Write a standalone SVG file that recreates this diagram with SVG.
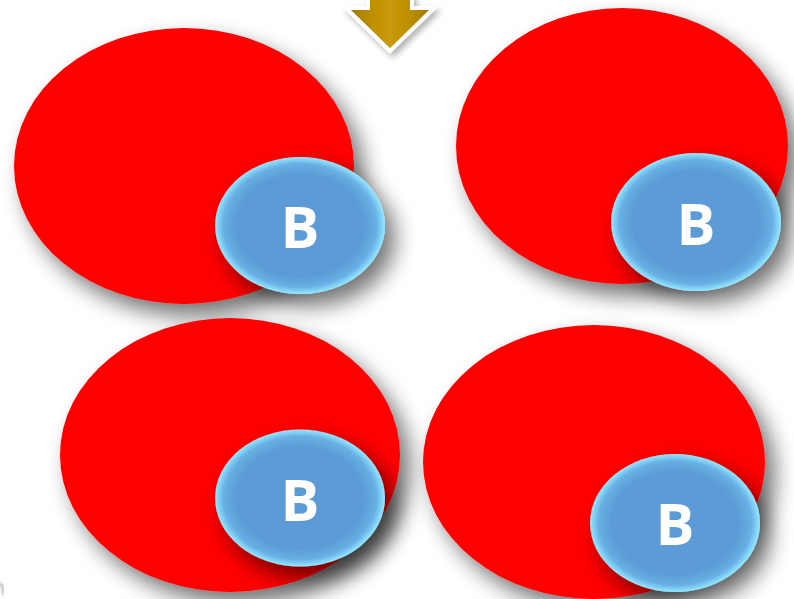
<svg xmlns="http://www.w3.org/2000/svg" width="794" height="599" viewBox="0 0 794 599">
  <defs>
    <filter id="shadow" x="-40%" y="-40%" width="180%" height="180%">
      <feGaussianBlur in="SourceAlpha" stdDeviation="11"/>
      <feOffset dx="10" dy="12" result="b"/>
      <feComponentTransfer><feFuncA type="linear" slope="0.55"/></feComponentTransfer>
      <feMerge><feMergeNode/><feMergeNode in="SourceGraphic"/></feMerge>
    </filter>
    <filter id="shadowSmall" x="-30%" y="-30%" width="160%" height="160%">
      <feGaussianBlur in="SourceAlpha" stdDeviation="3"/>
      <feOffset dx="3" dy="4" result="b"/>
      <feComponentTransfer><feFuncA type="linear" slope="0.3"/></feComponentTransfer>
      <feMerge><feMergeNode/><feMergeNode in="SourceGraphic"/></feMerge>
    </filter>
    <filter id="soft"><feGaussianBlur stdDeviation="1.5"/></filter>
    <radialGradient id="blueGlow" cx="50%" cy="50%" r="50%">
      <stop offset="0" stop-color="#5b9bd5"/>
      <stop offset="0.74" stop-color="#5b9bd5"/>
      <stop offset="0.9" stop-color="#67b0e5"/>
      <stop offset="1" stop-color="#94e8ff"/>
    </radialGradient>
    <linearGradient id="gold" x1="0" y1="0" x2="1" y2="0">
      <stop offset="0" stop-color="#9a7300"/>
      <stop offset="0.3" stop-color="#bf9000"/>
      <stop offset="0.5" stop-color="#c99a0a"/>
      <stop offset="0.7" stop-color="#bf9000"/>
      <stop offset="1" stop-color="#9a7300"/>
    </linearGradient>
  </defs>
  <style>
    .red { fill: #ff0000; }
    .blue { fill: url(#blueGlow); }
    .lbl { font-family: "Open Sans", "Liberation Sans", sans-serif; font-weight: 700; font-size: 58px; fill: #ffffff; text-anchor: middle; }
  </style>

  <rect width="794" height="599" fill="#ffffff"/>

  <!-- faint stray shadow at lower-left edge -->
  <path d="M0,583 Q5,588 3,595" fill="none" stroke="#777" stroke-width="2" opacity="0.7" filter="url(#soft)"/>

  <!-- down arrow -->
  <g id="arrow" filter="url(#shadowSmall)">
    <path d="M368,-4 L412,-4 L412,8 L434,8 L390,51 L346,8 L368,8 Z" fill="url(#gold)" stroke="#ffffff" stroke-width="4" stroke-linejoin="miter"/>
  </g>

  <g id="set-top-left">
    <ellipse class="red" cx="184" cy="166" rx="170" ry="138" filter="url(#shadow)"/>
    <g id="b-top-left" filter="url(#shadow)">
      <ellipse class="blue" cx="300" cy="225.5" rx="85" ry="68.5"/>
      <text class="lbl" x="300" y="248">B</text>
    </g>
  </g>

  <g id="set-top-right">
    <ellipse class="red" cx="622" cy="146" rx="166" ry="138" filter="url(#shadow)"/>
    <g id="b-top-right" filter="url(#shadow)">
      <ellipse class="blue" cx="696" cy="222" rx="85" ry="69"/>
      <text class="lbl" x="696" y="245">B</text>
    </g>
  </g>

  <g id="set-bottom-left">
    <ellipse class="red" cx="230" cy="455" rx="170" ry="137" filter="url(#shadow)"/>
    <g id="b-bottom-left" filter="url(#shadow)">
      <ellipse class="blue" cx="300" cy="498" rx="85" ry="68.5"/>
      <text class="lbl" x="300" y="521">B</text>
    </g>
  </g>

  <g id="set-bottom-right">
    <ellipse class="red" cx="594" cy="462" rx="171" ry="137" filter="url(#shadow)"/>
    <g id="b-bottom-right" filter="url(#shadow)">
      <ellipse class="blue" cx="675" cy="523" rx="85" ry="69"/>
      <text class="lbl" x="675" y="545">B</text>
    </g>
  </g>
</svg>
